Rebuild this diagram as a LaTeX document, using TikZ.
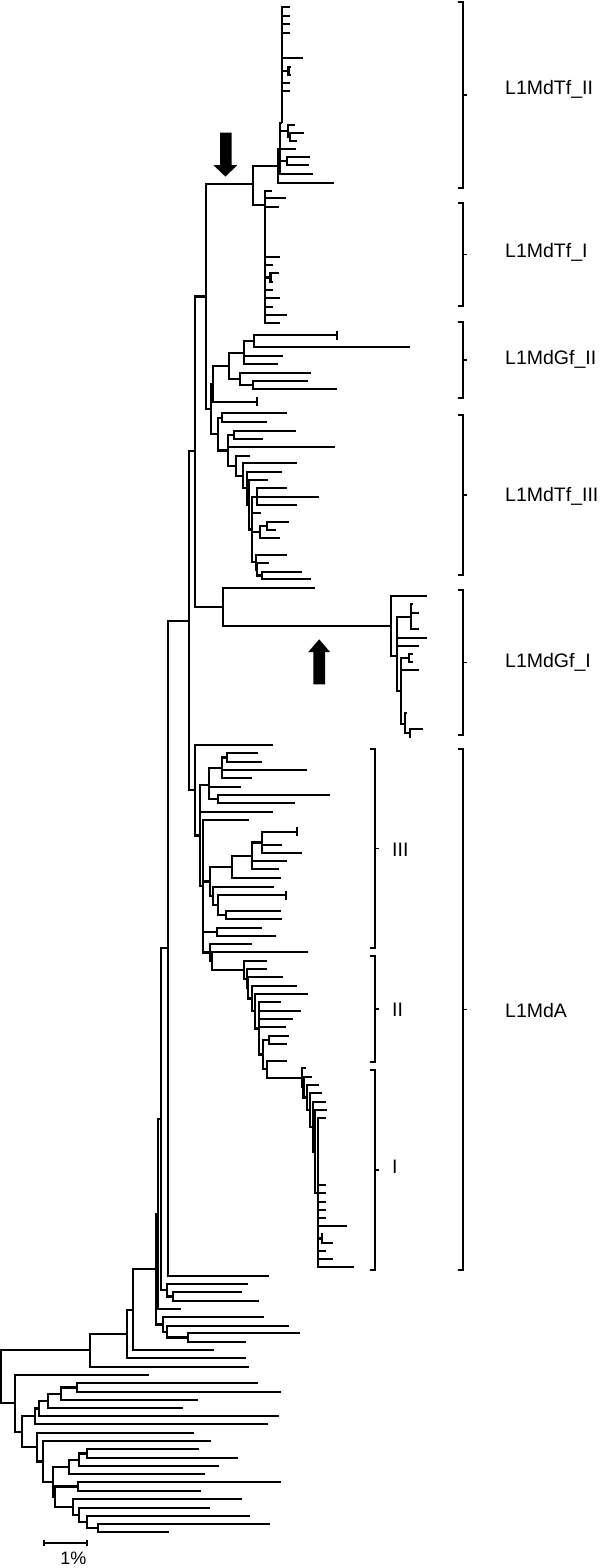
\documentclass[tikz,border=0pt]{standalone}
\usepackage{fontspec}
\setmainfont{Liberation Sans}

\begin{document}
\begin{tikzpicture}[x=1pt, y=-1pt,
  branch/.style={line width=2.2pt},
  bracket/.style={line width=1.8pt},
  cladelabel/.style={anchor=base west, inner sep=0pt, font=\fontsize{19.5}{22}\selectfont},
  arrowmark/.style={fill=black}]
\useasboundingbox (0,0) rectangle (600,1568);
% internal nodes of the tree
\foreach \nm/\x/\y in {r/1/1376.8, A/90/1350.3, C/126.7/1334, D/133.3/1309.7, S4/155.7/1269.3,
  S3/158/1214, S2/161/1119.1, S1/168.3/948.2, S0/189.3/620.8, U0/195/451.3, T0/206/296.5,
  T1/252.7/184, W0/277.7/165.7, W2/280/148.7, W1/281.7/123.4, W3/288/130.8, W3b/290/136.7,
  W4/286.7/160.8, W5/288.5/70.8, V0/265/205, V1/270.5/277.5, M0/210.7/409, K0/213.3/383.8,
  K1/229.3/365.8, K2/244/352.8, K4/254/341.2, K3/240/378.8, K5/252.7/385, H0/218.3/434.1,
  Ha/221.7/417.8, H1/228/450.4, Hb/234/434.9, H2/236/465.7, H3/243.3/475.8, H4/246.7/488.2,
  H5/249/504.7, H6/251.7/529.5, J1/257.3/496.7, J2/260/532, J2a/267.3/525.8, H7/256/562.2,
  H8/257.3/569.4, J3/261.7/575.5, P0/222.7/607, Q0/390.7/626, Q1/397/656, Q2/410.7/617,
  Q3/401/691, Q4/409.3/658, Q5/405/724, Q6/410/733, A0/195/790.2, A1/200/835.4,
  Aa/209.3/784.6, Ab/221.7/767.9, Ac/227.3/757.5, Ad/218.3/799.2, A2/203.3/886.3,
  B1/210/881.4, C1/231.7/866.8, D1/251.7/855.9, E1/261.7/842.5, C2/213.3/895.9,
  C3/218.3/905.1, C4/226/915.2, C5/216.7/931.7, Na/210/952.5, Nb/211.7/961, L2/244/969.7,
  L3/246.7/978.6, L4/248.3/987.9, L5/251.7/998.5, L6/255/1011.2, L7/259.3/1028.4,
  L8/263.3/1054.5, L8a/269.3/1040, L9/267.3/1069, I0/301.7/1077.7, N1/303.5/1087,
  N2/306.7/1097.5, N3/310/1110, N4/313.3/1126.6, N5/315/1151.4, F/318.3/1192.8,
  Fa/321.7/1238.4, S5/166.7/1290.2, S6/173.3/1296.5, S7/163.3/1324.5, S8/166.7/1331.6,
  S9/188.3/1337.5, b0/15/1403.3, b1/21.7/1431.7, b2/35/1416.3, b3/36.7/1447.2,
  b4/39.3/1408.5, b5/47.7/1400.8, b6/61/1393.7, b7/76.7/1387.5, b8/42.7/1461.5,
  b9/52.7/1482, b10/69.3/1467, b11/55/1496.9, b12/79.3/1459.8, b13/87.3/1453.5,
  b14/78.3/1486.5, b15/73.3/1507.2, b16/79.3/1515, b17/87.3/1522.2, b18/97.7/1528.3}
  \coordinate (\nm) at (\x,\y);

% branches between internal nodes
\foreach \p/\c in {r/A, r/b0, A/C, C/D, D/S4, S4/S3, S4/S7, S3/S2, S2/S1, S2/S5, S1/S0,
  S0/U0, S0/A0, U0/T0, U0/P0, T0/T1, T0/M0, T1/W0, T1/V0, W0/W2, W2/W1, W2/W3, W2/W4,
  W3/W3b, W1/W5, V0/V1, M0/K0, M0/H0, K0/K1, K1/K2, K1/K3, K2/K4, K3/K5, H0/Ha, H0/H1,
  H1/Hb, H1/H2, H2/H3, H3/H4, H4/H5, H5/H6, H6/J1, H6/J2, J2/J2a, H6/H7, H7/H8, H8/J3,
  P0/Q0, Q0/Q1, Q1/Q2, Q1/Q3, Q3/Q4, Q3/Q5, Q5/Q6, A0/A1, A1/Aa, A1/A2, Aa/Ab, Ab/Ac,
  Aa/Ad, A2/B1, A2/C5, A2/Na, B1/C1, B1/C2, C1/D1, D1/E1, C2/C3, C3/C4, Na/Nb, Nb/L2,
  L2/L3, L3/L4, L4/L5, L5/L6, L6/L7, L7/L8, L8/L8a, L8/L9, L9/I0, I0/N1, N1/N2, N2/N3,
  N3/N4, N4/N5, N5/F, F/Fa, S5/S6, S7/S8, S8/S9, b0/b1, b1/b2, b1/b3, b2/b4, b4/b5,
  b5/b6, b6/b7, b3/b8, b8/b9, b9/b10, b9/b11, b10/b12, b12/b13, b11/b14, b11/b15,
  b15/b16, b16/b17, b17/b18}
  \draw[branch] (\p) |- (\c);

% terminal branches: parent / y / tip x
\foreach \p/\y/\x in {W1/7.3/290, W1/16/290, W1/24.3/290, W1/33.3/290, W1/58.3/303.3,
  W1/82.7/290, W1/91/290, W5/66.7/291, W5/75/291, W3/125/295, W3b/132.7/304.3,
  W3b/140.7/297.3, W2/149/295.7, W4/156.7/310, W4/165/309, W2/174/313.3, W0/182.7/334,
  V0/190.7/271.7, V0/198.3/285.7, V0/206.7/279, V0/256.7/280, V0/265/272.7, V0/290/272.7,
  V0/298.3/280, V0/306.7/272.7, V0/315/286.7, V0/323.3/280, V1/273.3/279, V1/281.7/272.7,
  K4/335/337.3, K4/347.3/410, K2/355.7/283.3, K2/364/278.3, K3/372.7/310.7, K5/381/308.3,
  K5/389/336.7, K0/401.7/257.3, Ha/413.3/287.3, Ha/422.3/266.7, Hb/430.7/295.7,
  Hb/439/263.3, H1/446.7/335, H2/455.7/250, H3/463.3/296.7, H4/471.7/282.3, H5/480/268.3,
  J1/488.3/286.7, J1/496.7/319, J1/505/296.7, H6/513.3/260.7, J2a/521.7/289.3,
  J2a/530/276, J2/538.3/280, H7/555/286.7, H8/563.3/269, J3/571.7/302.3, J3/579.3/310.7,
  P0/588.3/315, Q0/596/426.7, Q2/604.3/413, Q2/612.7/419.3, Q2/629.3/419.3,
  Q1/637.7/426.7, Q1/646/419.3, Q4/654.3/413, Q4/662/413, Q3/670/419.3, Q5/713/407,
  Q6/729.3/423.3, Q6/737/411, A0/745/273.3, Ac/753.3/257.7, Ac/761.7/261.7, Ab/770/307.3,
  Ab/778.3/251.7, Aa/786.7/240.7, Ad/795/330, Ad/803.3/295, A1/811.7/272.7, A2/820/248.7,
  E1/831.7/296.7, E1/845/281.7, E1/853.3/301.7, D1/861/286.7, D1/869.3/278.7,
  C1/877.7/280.7, C2/886.7/274.3, C3/895/286, C4/911/281, C4/919.3/281.7, C5/927.7/261.7,
  C5/935.7/275.7, Na/944/252.3, Nb/952.3/307.7, L2/960.7/267.3, L3/969.3/267.3,
  L4/977.3/283.3, L5/985.7/297.3, L6/994/307.7, L7/1002.3/280.7, L7/1010.7/300.7,
  L7/1019/293.3, L7/1027.3/286, L8a/1036/288.7, L8a/1044/286.7, L9/1060.7/286.7,
  I0/1068.3/306, N1/1076.7/311.7, N2/1085/319.3, N3/1093.3/321.7, N4/1101.7/326,
  N5/1110/327.3, F/1118.3/326, F/1185/326, F/1193.3/326, F/1201.7/326, F/1210/326,
  F/1218.3/326, F/1225.7/346.7, F/1251/326, F/1259.3/333.3, F/1267.3/354, Fa/1234/323,
  Fa/1242.7/332.7, S1/1275.7/269.3, S5/1284/247.7, S6/1292.3/241.7, S6/1300.7/259.3,
  S3/1309/180.7, S7/1317.3/264.3, S8/1325.7/288.7, S9/1333.3/299.7, S9/1341.7/246,
  D/1350/214.3, C/1358.3/246, A/1366.7/249.3, b0/1375/149, b7/1383.3/257.7,
  b7/1391.7/280.7, b6/1400/197.7, b5/1407.7/182.7, b4/1416/279.3, b2/1424.3/268.3,
  b3/1432.7/194.3, b8/1441/211, b13/1449.3/199.3, b13/1457.7/237.7, b12/1466/219,
  b10/1474/205, b14/1482.3/280.7, b14/1490.7/200.7, b15/1499.3/241.7, b16/1507.7/210,
  b17/1516/250, b18/1524.3/270, b18/1532.3/169.3}
  \draw[branch] (\p) |- (\x,\y);

% bars at the tips
\foreach \x/\y in {337.3/335, 257.3/401.7, 296.7/831.7, 286/895}
  \draw[branch] ({\x},{\y-4.5}) -- ({\x},{\y+4.5});

% arrows
\fill[arrowmark] (220,132.7) -- (231.7,132.7) -- (231.7,165) -- (237.3,165) -- (225.5,176.7)
  -- (213.3,165) -- (220,165) -- cycle;
\fill[arrowmark] (313.3,684.3) -- (325,684.3) -- (325,652) -- (330,652) -- (319.2,639.3)
  -- (308.3,652) -- (313.3,652) -- cycle;

% clade brackets
\foreach \x/\ya/\yb/\lx/\ty/\nm/\txt in {463/2/188/505/95/lTfII/L1MdTf\_II,
  463/203/306/505/257/lTfI/L1MdTf\_I, 463/322/398/505/364/lGfII/L1MdGf\_II,
  463/415/575/505/501/lTfIII/L1MdTf\_III, 463/590/735/505/667/lGfI/L1MdGf\_I,
  463/749/1270/505/1017/lA/L1MdA, 375/749/948/392/856/lIII/III,
  375/956/1062/392/1016/lII/II, 375/1070/1270/392/1173/lI/I}
{
  \draw[bracket] ({\x-5},\ya) -- (\x,\ya) -- (\x,\yb) -- ({\x-5},\yb);
  \draw[bracket] (\x,{(\ya+\yb)/2}) -- ({\x+4},{(\ya+\yb)/2});
  \node[cladelabel] (\nm) at (\lx,\ty) {\txt};
}

% scale bar
\draw[bracket] (44.3,1542.7) -- (87.3,1542.7);
\draw[bracket] (44.3,1539.7) -- (44.3,1545.7);
\draw[bracket] (87.3,1539.7) -- (87.3,1545.7);
\node[font=\fontsize{18}{20}\selectfont, inner sep=0pt] (scale) at (73.3,1558.3) {1\%};
\end{tikzpicture}
\end{document}
